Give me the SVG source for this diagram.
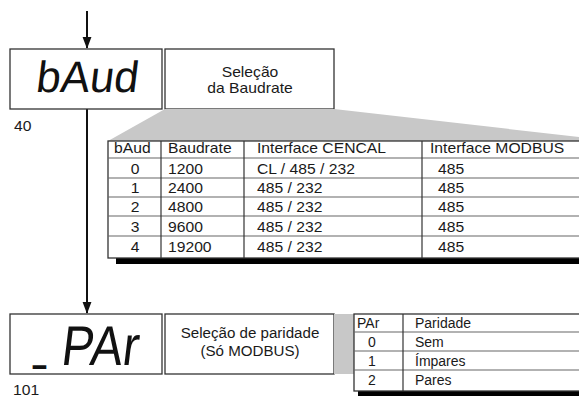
<svg xmlns="http://www.w3.org/2000/svg" width="579" height="399" viewBox="0 0 579 399">
<style>
.box{fill:#fff;stroke:#333;stroke-width:1.3}
.gray{fill:#c8c8c8;stroke:none}
.t{font-family:"Liberation Sans",Arial,sans-serif;font-size:14px;fill:#1a1a1a}
.c{text-anchor:middle}
.seg{font-family:"Liberation Sans",Arial,sans-serif;fill:#111}
.outer{fill:#fff;stroke:#333;stroke-width:1.3}
.rl{stroke:#666;stroke-width:1.2}
.cl{stroke:#333;stroke-width:1.2}
.shadow{fill:#000}
.wire{stroke:#111;stroke-width:2;fill:none}
</style>
<defs>
<marker id="ah2" markerWidth="12" markerHeight="16" refX="15" refY="6" orient="auto" markerUnits="userSpaceOnUse" viewBox="0 0 16 12">
<path d="M0,0 L16,6 L0,12 Z" fill="#111"/>
</marker>
</defs>

<g id="connectors">
<line class="wire" x1="87" y1="11" x2="87" y2="48" marker-end="url(#ah2)"/>
<line class="wire" x1="87" y1="109" x2="87" y2="313" marker-end="url(#ah2)"/>
</g>

<g id="baud-display">
<rect class="box" x="10" y="49" width="152" height="60"/>
<text class="seg" transform="translate(35 92) skewX(-7)" font-size="44" textLength="102" lengthAdjust="spacingAndGlyphs">bAud</text>
<text class="t" transform="translate(14 131) scale(1.12 1)">40</text>
</g>

<g id="baud-label">
<rect class="box" x="165" y="49" width="169" height="60"/>
<text class="t c" transform="translate(250 77) scale(1.12 1)">Seleção</text>
<text class="t c" transform="translate(250 93) scale(1.12 1)">da Baudrate</text>
</g>

<g id="baud-table">
<polygon class="gray" points="165,109 334,109 579,137 579,141 108,141"/>
<rect class="shadow" x="116" y="258" width="470" height="6"/>
<rect class="outer" x="108" y="141" width="480" height="117"/>
<line class="rl" x1="108" y1="158" x2="579" y2="158"/>
<line class="rl" x1="108" y1="178" x2="579" y2="178"/>
<line class="rl" x1="108" y1="197" x2="579" y2="197"/>
<line class="rl" x1="108" y1="216" x2="579" y2="216"/>
<line class="rl" x1="108" y1="236" x2="579" y2="236"/>
<line class="cl" x1="161" y1="141" x2="161" y2="258"/>
<line class="cl" x1="244" y1="141" x2="244" y2="258"/>
<line class="cl" x1="422" y1="141" x2="422" y2="258"/>
<text class="t" transform="translate(114 153) scale(1.12 1)">bAud</text>
<text class="t" transform="translate(168 153) scale(1.12 1)">Baudrate</text>
<text class="t" transform="translate(257 153) scale(1.12 1)">Interface CENCAL</text>
<text class="t" transform="translate(430 153) scale(1.12 1)">Interface MODBUS</text>
<text class="t c" transform="translate(135 174) scale(1.12 1)">0</text>
<text class="t" transform="translate(168 174) scale(1.12 1)">1200</text>
<text class="t" transform="translate(257 174) scale(1.12 1)">CL / 485 / 232</text>
<text class="t" transform="translate(438 174) scale(1.12 1)">485</text>
<text class="t c" transform="translate(135 193) scale(1.12 1)">1</text>
<text class="t" transform="translate(168 193) scale(1.12 1)">2400</text>
<text class="t" transform="translate(257 193) scale(1.12 1)">485 / 232</text>
<text class="t" transform="translate(438 193) scale(1.12 1)">485</text>
<text class="t c" transform="translate(135 212) scale(1.12 1)">2</text>
<text class="t" transform="translate(168 212) scale(1.12 1)">4800</text>
<text class="t" transform="translate(257 212) scale(1.12 1)">485 / 232</text>
<text class="t" transform="translate(438 212) scale(1.12 1)">485</text>
<text class="t c" transform="translate(135 232) scale(1.12 1)">3</text>
<text class="t" transform="translate(168 232) scale(1.12 1)">9600</text>
<text class="t" transform="translate(257 232) scale(1.12 1)">485 / 232</text>
<text class="t" transform="translate(438 232) scale(1.12 1)">485</text>
<text class="t c" transform="translate(135 252) scale(1.12 1)">4</text>
<text class="t" transform="translate(168 252) scale(1.12 1)">19200</text>
<text class="t" transform="translate(257 252) scale(1.12 1)">485 / 232</text>
<text class="t" transform="translate(438 252) scale(1.12 1)">485</text>
</g>

<g id="par-display">
<rect class="box" x="10" y="314" width="152" height="60"/>
<text class="seg" x="33" y="357" font-size="60" textLength="13" lengthAdjust="spacingAndGlyphs">_</text>
<text class="seg" transform="translate(60 365) skewX(-7)" font-size="56" textLength="77" lengthAdjust="spacingAndGlyphs">PAr</text>
<text class="t" transform="translate(13 395) scale(1.12 1)">101</text>
</g>

<g id="par-label">
<rect class="box" x="165" y="314" width="169" height="60"/>
<text class="t c" transform="translate(250 338) scale(1.08 1)">Seleção de paridade</text>
<text class="t c" transform="translate(250 356) scale(1.08 1)">(Só MODBUS)</text>
</g>

<g id="par-table">
<rect class="gray" x="334" y="314" width="20" height="60"/>
<rect class="shadow" x="358" y="391" width="230" height="5"/>
<rect class="outer" x="354" y="314" width="234" height="77"/>
<line class="rl" x1="354" y1="332" x2="579" y2="332"/>
<line class="rl" x1="354" y1="351" x2="579" y2="351"/>
<line class="rl" x1="354" y1="370" x2="579" y2="370"/>
<line class="cl" x1="403" y1="314" x2="403" y2="391"/>
<text class="t" x="357" y="328">PAr</text>
<text class="t" x="415" y="328">Paridade</text>
<text class="t c" x="372" y="347">0</text>
<text class="t" x="415" y="347">Sem</text>
<text class="t c" x="372" y="366">1</text>
<text class="t" x="415" y="366">Ímpares</text>
<text class="t c" x="372" y="385">2</text>
<text class="t" x="415" y="385">Pares</text>
</g>
</svg>
